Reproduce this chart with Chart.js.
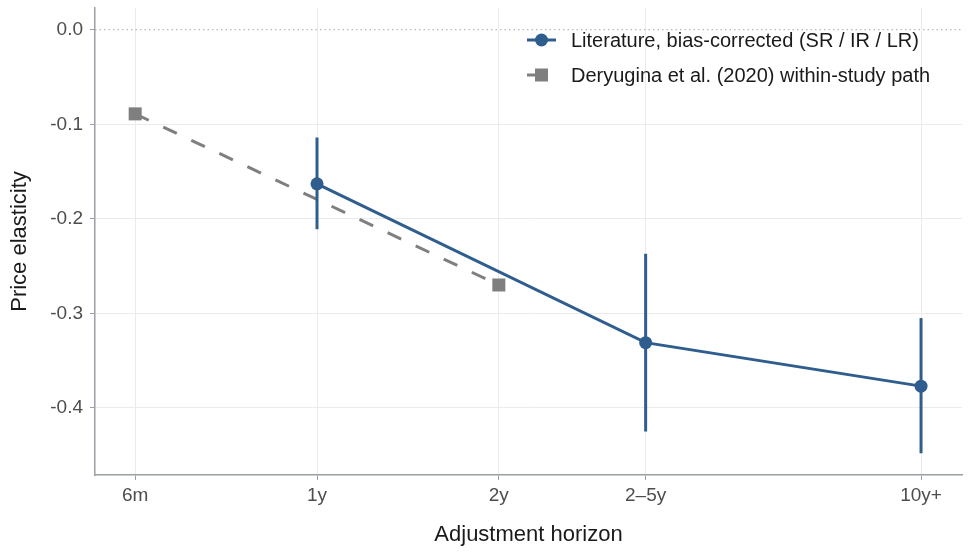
<!DOCTYPE html>
<html>
<head>
<meta charset="utf-8">
<script src="https://cdn.jsdelivr.net/npm/chart.js@4/dist/chart.umd.min.js"></script>
<style>
  html, body { margin: 0; padding: 0; background: #fff; }
  #wrap { width: 971px; height: 554px; }
</style>
</head>
<body>
<div id="wrap"><canvas id="elasticityChart"></canvas></div>
<script>
// horizons (years, plotted on a log axis) and their labels
const horizonYears = [0.5, 1, 2, 3.5, 10];
const horizonLabels = ["6m", "1y", "2y", "2\u20135y", "10y+"];

// literature, bias-corrected (SR / IR / LR)
const litYears = [1, 3.5, 10];
const litValues = [-0.163, -0.331, -0.377];
const litLow = [-0.211, -0.425, -0.448];
const litHigh = [-0.114, -0.237, -0.305];

// Deryugina et al. (2020) within-study path
const deryYears = [0.5, 2];
const deryValues = [-0.089, -0.27];

const yTicks = [0, -0.1, -0.2, -0.3, -0.4];

const blue = "#2f5d8e";
const grey = "#7f7f7f";
const fontFamily = "'Liberation Sans', Arial, Helvetica, sans-serif";

// error bars drawn through the scales
const errorBars = {
  id: "errorBars",
  afterDatasetsDraw(chart) {
    const { ctx, scales } = chart;
    ctx.save();
    ctx.strokeStyle = blue;
    ctx.lineWidth = 3;
    litYears.forEach((yr, i) => {
      const x = scales.x.getPixelForValue(yr);
      ctx.beginPath();
      ctx.moveTo(x, scales.y.getPixelForValue(litLow[i]));
      ctx.lineTo(x, scales.y.getPixelForValue(litHigh[i]));
      ctx.stroke();
    });
    ctx.restore();
  }
};

// dotted reference line at zero
const zeroLine = {
  id: "zeroLine",
  beforeDatasetsDraw(chart) {
    const { ctx, chartArea, scales } = chart;
    const y = scales.y.getPixelForValue(0);
    ctx.save();
    ctx.strokeStyle = "#a8a8a8";
    ctx.lineWidth = 1;
    ctx.setLineDash([1.5, 3]);
    ctx.beginPath();
    ctx.moveTo(chartArea.left, y);
    ctx.lineTo(chartArea.right, y);
    ctx.stroke();
    ctx.restore();
  }
};

// legend drawn inside the plot, top right
const insideLegend = {
  id: "insideLegend",
  afterDraw(chart) {
    const { ctx, chartArea } = chart;
    const x0 = chartArea.right - 435;
    const rows = [
      { text: "Literature, bias-corrected (SR / IR / LR)", y: chartArea.top + 32 },
      { text: "Deryugina et al. (2020) within-study path", y: chartArea.top + 67 }
    ];
    ctx.save();
    // blue: line with circle
    ctx.strokeStyle = blue;
    ctx.lineWidth = 3;
    ctx.beginPath();
    ctx.moveTo(x0, rows[0].y);
    ctx.lineTo(x0 + 29, rows[0].y);
    ctx.stroke();
    ctx.fillStyle = blue;
    ctx.beginPath();
    ctx.arc(x0 + 14.5, rows[0].y, 6.5, 0, Math.PI * 2);
    ctx.fill();
    // grey: stub with square
    ctx.strokeStyle = grey;
    ctx.beginPath();
    ctx.moveTo(x0, rows[1].y);
    ctx.lineTo(x0 + 9, rows[1].y);
    ctx.stroke();
    ctx.fillStyle = grey;
    ctx.fillRect(x0 + 8, rows[1].y - 6.5, 13, 13);
    // text
    ctx.fillStyle = "#1a1a1a";
    ctx.font = "20px " + fontFamily;
    ctx.textBaseline = "middle";
    rows.forEach(r => ctx.fillText(r.text, x0 + 44, r.y + 1));
    ctx.restore();
  }
};

const ctx = document.getElementById("elasticityChart").getContext("2d");
const elasticityChart = new Chart(ctx, {
  type: "line",
  data: {
    datasets: [
      {
        label: "Literature, bias-corrected (SR / IR / LR)",
        data: litYears.map((x, i) => ({ x: x, y: litValues[i] })),
        borderColor: blue,
        backgroundColor: blue,
        borderWidth: 3,
        pointRadius: 6.5,
        pointBorderWidth: 0,
        pointStyle: "circle",
        order: 1
      },
      {
        label: "Deryugina et al. (2020) within-study path",
        data: deryYears.map((x, i) => ({ x: x, y: deryValues[i] })),
        borderColor: grey,
        backgroundColor: grey,
        borderWidth: 3,
        borderDash: [15, 16],
        pointStyle: "rect",
        pointRadius: 9.2,
        pointBorderWidth: 0,
        order: 2
      }
    ]
  },
  options: {
    responsive: true,
    maintainAspectRatio: false,
    animation: false,
    devicePixelRatio: 1,
    layout: { autoPadding: false, padding: { top: 8, right: 9, left: 0, bottom: 0 } },
    plugins: {
      legend: { display: false },
      tooltip: { enabled: false }
    },
    scales: {
      x: {
        type: "logarithmic",
        min: 0.429,
        max: 11.69,
        afterBuildTicks(scale) {
          scale.ticks = horizonYears.map(v => ({ value: v }));
        },
        afterFit(scale) {
          scale.height = 79;
          scale.paddingLeft = 0;
          scale.paddingRight = 0;
        },
        ticks: {
          autoSkip: false,
          maxRotation: 0,
          padding: 4,
          color: "#4d4d4d",
          font: { family: fontFamily, size: 19 },
          callback: (v, i) => horizonLabels[i]
        },
        grid: { color: "#ebebeb", lineWidth: 1, tickLength: 5, tickColor: "#9aa0a6" },
        border: { color: "#9aa0a6", width: 1.5 },
        title: {
          display: true,
          text: "Adjustment horizon",
          color: "#1a1a1a",
          font: { family: fontFamily, size: 22 },
          padding: { top: 6, bottom: 6 }
        }
      },
      y: {
        type: "linear",
        min: -0.471,
        max: 0.023,
        afterBuildTicks(scale) {
          scale.ticks = yTicks.map(v => ({ value: v }));
        },
        afterFit(scale) {
          scale.width = 95;
          scale.paddingTop = 0;
          scale.paddingBottom = 0;
        },
        ticks: {
          padding: 7,
          color: "#4d4d4d",
          font: { family: fontFamily, size: 19 },
          callback: v => v.toFixed(1)
        },
        grid: {
          color: c => (c.tick && c.tick.value === 0 ? "rgba(0,0,0,0)" : "#ebebeb"),
          lineWidth: 1,
          tickLength: 5,
          tickColor: "#9aa0a6"
        },
        border: { color: "#9aa0a6", width: 1.5 },
        title: {
          display: true,
          text: "Price elasticity",
          color: "#1a1a1a",
          font: { family: fontFamily, size: 22 },
          padding: { top: 7, bottom: 7 }
        }
      }
    }
  },
  plugins: [zeroLine, errorBars, insideLegend]
});
</script>
</body>
</html>
